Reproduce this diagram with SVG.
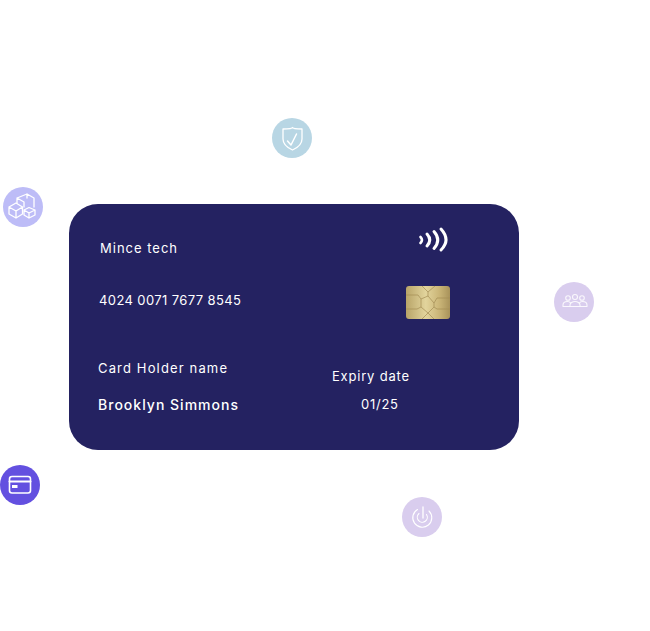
<svg xmlns="http://www.w3.org/2000/svg" width="650" height="631" viewBox="0 0 650 631">
<defs>
<linearGradient id="gold" x1="0" y1="0" x2="1" y2="0">
<stop offset="0" stop-color="#b8a468"/><stop offset="0.45" stop-color="#e2d49c"/><stop offset="0.75" stop-color="#cbb678"/><stop offset="1" stop-color="#a8925a"/>
</linearGradient>
</defs>
<style>
text{font-family:"Inter","Liberation Sans",sans-serif;fill:#fff;font-size:13px;font-weight:400}
.ic{fill:none;stroke:#fff;stroke-width:1.1;stroke-linejoin:round;stroke-linecap:round}
.bold{stroke-width:1.600}
.tr{fill:none;stroke:#a48c54;stroke-width:.7}
.arc{fill:none;stroke:#fff;stroke-linecap:round;stroke-width:3}
</style>
<rect width="650" height="631" fill="#fff"/>
<g id="connectors"></g>
<g id="card">
<rect x="69" y="204" width="450" height="246" rx="29" fill="#242261"/>
<text x="100" y="253" textLength="77" lengthAdjust="spacing">Mince tech</text>
<text x="99" y="305" textLength="142" lengthAdjust="spacing">4024 0071 7677 8545</text>
<text x="98" y="373" textLength="129" lengthAdjust="spacing">Card Holder name</text>
<text x="98" y="410" textLength="140" lengthAdjust="spacing" style="font-size:14px;font-weight:500">Brooklyn Simmons</text>
<text x="332" y="381" textLength="77" lengthAdjust="spacing">Expiry date</text>
<text x="361" y="409" textLength="37" lengthAdjust="spacing">01/25</text>
</g>
<g id="contactless">
<path class="arc" d="M420.500 237Q423.500 240 420.500 243" style="stroke-width:2.600"/>
<path class="arc" d="M427 234Q432.500 240 427 246"/>
<path class="arc" d="M434 231.500Q441.500 240 434 248.500"/>
<path class="arc" d="M441 229Q451 240 441 250"/>
</g>
<g id="chip">
<rect x="406" y="286" width="44" height="33" rx="3" fill="url(#gold)"/>
<path class="tr" d="M422 286L428 292L435 286M428 292V296M406 295H418L421 299V307L417 309H406M450 298H437L434 303V307L437 309H450M421 299L428 296L434 303M421 307L428 313L434 307M428 313L422 319M428 313L434 319"/>
</g>
<g id="node-shield">
<circle cx="292" cy="138" r="20" fill="#b8d6e4"/>
<path class="ic" style="stroke-width:1.300" d="M283 129Q292 129 292.500 127.500Q293 129 302 129V139C302 144 297 148 292.500 150C288 148 283 144 283 139Z"/>
<path class="ic" style="stroke-width:1.500" d="M287.500 141L291 145L296.500 134"/>
</g>
<g id="node-boxes">
<circle cx="23" cy="207" r="20" fill="#bdbcf7"/>
<path class="ic" style="stroke-width:1.300" d="M9 207L16 203L22.500 207V214L16 218L9 214ZM9 207L16 211L22.500 207M16 211V218"/>
<path class="ic" style="stroke-width:1.300" d="M17 203V198L27 194L34 198V207M17 198L24 202V207M27 194V198"/>
<path class="ic" style="stroke-width:1.300" d="M24 210L29 207.500L35 210V215L29 218L24 215ZM24 210L29 213L35 210M29 213V218"/>
</g>
<g id="node-people">
<circle cx="574" cy="302" r="20" fill="#d9cdee"/>
<g class="ic" style="stroke-opacity:.85">
<circle cx="568" cy="298" r="2.300"/>
<circle cx="575" cy="297" r="2.500"/>
<circle cx="582" cy="298" r="2.300"/>
<path d="M563 306.500V305C563 302.500 565.500 301.500 567.500 301.500C569 301.500 570 302 570.500 303M587 306.500V305C587 302.500 584.500 301.500 582.500 301.500C581 301.500 580 302 579.500 303M570 306.500V305C570 303 572.500 301.500 575 301.500C577.500 301.500 580 303 580 305V306.500M563 306.500H587"/>
</g>
</g>
<g id="node-card">
<circle cx="20" cy="485" r="20" fill="#6350e0"/>
<rect class="ic bold" x="9.500" y="476.500" width="21" height="16.500" rx="2.500"/>
<path class="ic bold" d="M9.500 481.500H30.500" style="stroke-width:2"/>
<rect x="12" y="485" width="5.500" height="3" fill="#fff"/>
</g>
<g id="node-power">
<circle cx="422" cy="517" r="20" fill="#d9cdee"/>
<path class="ic" d="M417.500 509.500A9.500 9.500 0 1 0 429 511"/>
<path class="ic" d="M419 513.500A5 5 0 1 0 426.500 514.500"/>
<path class="ic" d="M423 507V518" style="stroke-width:1.300"/>
</g>
</svg>
